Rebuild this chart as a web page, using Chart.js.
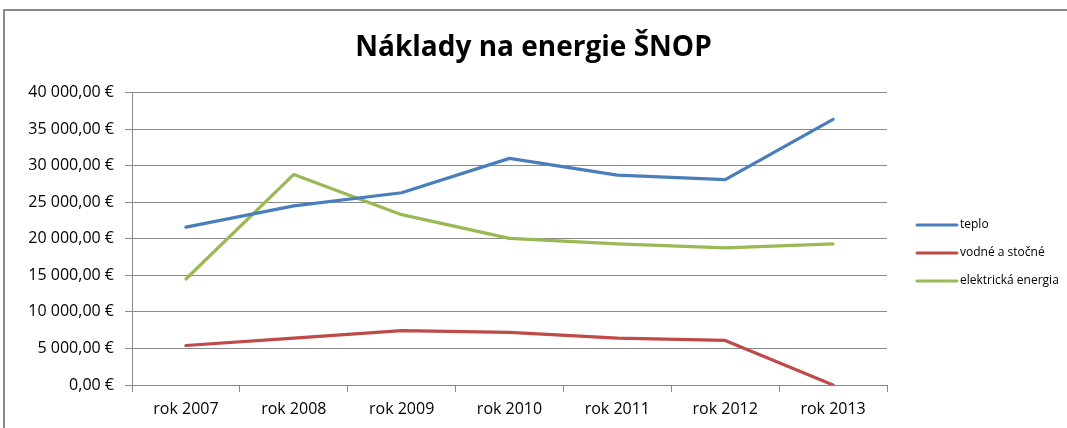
<!DOCTYPE html>
<html>
<head>
<meta charset="utf-8">
<script src="https://cdn.jsdelivr.net/npm/chart.js@4.4.0/dist/chart.umd.min.js"></script>
<style>
html,body{margin:0;padding:0;background:#fff;}
#wrap{position:relative;width:1067px;height:428px;overflow:hidden;}
#frame{position:absolute;left:3px;top:9px;width:1100px;height:500px;border-left:2px solid #8a8a8a;border-top:2px solid #8a8a8a;}
canvas{position:absolute;left:0;top:0;}
</style>
</head>
<body>
<div id="wrap"><div id="frame"></div><canvas id="c" width="1067" height="428"></canvas></div>
<script>
const categories = ["rok 2007","rok 2008","rok 2009","rok 2010","rok 2011","rok 2012","rok 2013"];
const teplo = [21600, 24500, 26300, 31000, 28700, 28100, 36350];
const vodneStocne = [5400, 6400, 7450, 7200, 6400, 6100, 0];
const elektrickaEnergia = [14500, 28800, 23300, 20050, 19300, 18750, 19300];
const seriesNames = ["teplo","vodné a stočné","elektrická energia"];
const titleText = "Náklady na energie ŠNOP";

function fmtEuro(v){
  const fixed = Math.abs(v).toFixed(2).split(".");
  const intPart = fixed[0].replace(/\B(?=(\d{3})+(?!\d))/g, " ");
  return (v<0?"-":"") + intPart + "," + fixed[1] + " €";
}

const FONT = "'Open Sans'";
const gridColor = "#8a8a8a";

const legendPlugin = {
  id: "customLegend",
  afterDraw(chart){
    const ctx = chart.ctx;
    const ds = chart.data.datasets;
    const x0 = 917, lineW = 40, yStart = 225, gap = 28;
    ctx.save();
    ctx.font = "12px " + FONT;
    ctx.textBaseline = "middle";
    ctx.textAlign = "left";
    ds.forEach((d,i)=>{
      const y = yStart + i*gap;
      ctx.strokeStyle = d.borderColor;
      ctx.lineWidth = 3;
      ctx.lineCap = "round";
      ctx.beginPath(); ctx.moveTo(x0, y); ctx.lineTo(x0+lineW, y); ctx.stroke();
      ctx.fillStyle = "#000";
      ctx.fillText(d.label, x0+lineW+3, y);
    });
    ctx.restore();
  }
};

new Chart(document.getElementById("c"), {
  type: "line",
  data: {
    labels: categories,
    datasets: [
      {label: seriesNames[0], data: teplo, borderColor: "#4a7ebb", backgroundColor: "#4a7ebb"},
      {label: seriesNames[1], data: vodneStocne, borderColor: "#be4b48", backgroundColor: "#be4b48"},
      {label: seriesNames[2], data: elektrickaEnergia, borderColor: "#98b954", backgroundColor: "#98b954"}
    ]
  },
  options: {
    responsive: false,
    animation: false,
    devicePixelRatio: 1,
    layout: {padding: {left: 0, right: 0, top: 0, bottom: 0}},
    elements: {
      line: {borderWidth: 3.2, tension: 0, borderCapStyle: "round", borderJoinStyle: "round"},
      point: {radius: 0, hoverRadius: 0}
    },
    plugins: {
      legend: {display: false},
      tooltip: {enabled: false},
      title: {
        display: true,
        text: titleText,
        color: "#000",
        font: {family: FONT, size: 28, weight: "bold"},
        padding: {top: 31, bottom: 28}
      }
    },
    scales: {
      x: {
        offset: true,
        grid: {offset: true, drawOnChartArea: false, drawTicks: true, tickLength: 7, color: gridColor, lineWidth: 1},
        border: {display: true, color: gridColor, width: 1},
        ticks: {color: "#000", font: {family: FONT, size: 16}, padding: 8, maxRotation: 0},
        afterFit(s){ s.height = 43; }
      },
      y: {
        min: 0, max: 40000,
        grid: {color: gridColor, lineWidth: 1, drawTicks: true, tickLength: 7},
        border: {display: true, color: gridColor, width: 1},
        ticks: {stepSize: 5000, color: "#000", font: {family: FONT, size: 16}, padding: 11, callback: v => fmtEuro(v)},
        afterFit(s){ s.width = 132; }
      },
      legendSpace: {
        type: "linear",
        position: "right",
        display: true,
        grid: {drawOnChartArea: false, drawTicks: false},
        border: {display: false},
        ticks: {display: false},
        afterFit(s){ s.width = 180; }
      }
    }
  },
  plugins: [legendPlugin]
});
</script>
</body>
</html>
